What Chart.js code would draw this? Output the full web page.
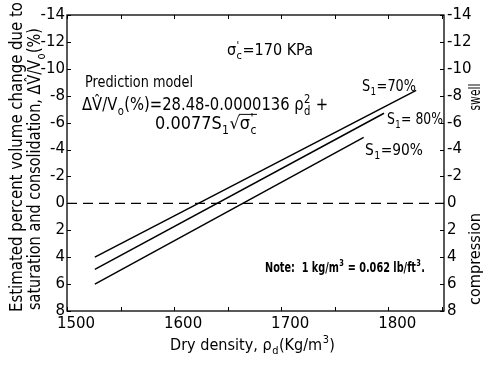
<!DOCTYPE html>
<html>
<head>
<meta charset="utf-8">
<script src="https://cdn.jsdelivr.net/npm/chart.js@4.4.0/dist/chart.umd.min.js"></script>
<style>
  html, body { margin: 0; padding: 0; background: #fff; }
  canvas { display: block; }
</style>
</head>
<body>
<canvas id="chart" width="484" height="369"></canvas>
<script>
// values
const xTicks = [1500, 1600, 1700, 1800];
const yTicks = [-14, -12, -10, -8, -6, -4, -2, 0, 2, 4, 6, 8];
const xMin = 1500, xMax = 1852;
const yMin = -14, yMax = 8;

const s70Density = [1526, 1826];
const s70Change = [4.0, -8.4];
const s80Density = [1526, 1796];
const s80Change = [4.9, -6.7];
const s90Density = [1526, 1777];
const s90Change = [6.0, -4.9];
const zeroDensity = [1500, 1852];
const zeroChange = [0, 0];

const FAMILY = '"DejaVu Sans", sans-serif';

function font(size, weight) {
  return (weight || "normal") + " " + size + "px " + FAMILY;
}

// rich text: {t} normal, {sub}/{sup} small, {root:[...]} square root
function runWidth(ctx, parts, size, weight) {
  let w = 0;
  for (const p of parts) {
    if (p.t != null) {
      ctx.font = font(size, weight);
      w += ctx.measureText(p.t).width;
    } else if (p.root) {
      ctx.font = font(size, weight);
      w += ctx.measureText("√").width + runWidth(ctx, p.root, size, weight);
    } else {
      ctx.font = font(size * 0.68, weight);
      w += Math.max(p.sub ? ctx.measureText(p.sub).width : 0,
                    p.sup ? ctx.measureText(p.sup).width : 0) + 1;
    }
  }
  return w;
}

function drawRun(ctx, x, y, parts, size, weight) {
  for (const p of parts) {
    if (p.t != null) {
      ctx.font = font(size, weight);
      ctx.fillText(p.t, x, y);
      x += ctx.measureText(p.t).width;
    } else if (p.root) {
      ctx.font = font(size, weight);
      ctx.fillText("√", x, y);
      const rw = ctx.measureText("√").width;
      const inner = runWidth(ctx, p.root, size, weight);
      ctx.beginPath();
      ctx.moveTo(x + rw - 1, y - size * 0.86);
      ctx.lineTo(x + rw + inner, y - size * 0.86);
      ctx.lineWidth = 1;
      ctx.stroke();
      x = drawRun(ctx, x + rw, y, p.root, size, weight);
    } else {
      ctx.font = font(size * 0.68, weight);
      let w = 0;
      if (p.sub) { ctx.fillText(p.sub, x + 0.5, y + size * 0.28); w = ctx.measureText(p.sub).width; }
      if (p.sup) { ctx.fillText(p.sup, x + 0.5, y - size * 0.42); w = Math.max(w, ctx.measureText(p.sup).width); }
      x += w + 1;
    }
  }
  return x;
}

// draws text from left x (or centred on x) and squeezes it to the given width
function drawRich(ctx, x, y, parts, size, opts) {
  opts = opts || {};
  const natural = runWidth(ctx, parts, size, opts.weight);
  const sx = opts.width ? opts.width / natural : 1;
  ctx.save();
  ctx.translate(x, y);
  if (opts.rotate) ctx.rotate(opts.rotate);
  ctx.scale(sx, 1);
  const start = opts.center ? -natural / 2 : 0;
  drawRun(ctx, start, 0, parts, size, opts.weight);
  ctx.restore();
}

const sigma = [{ t: "σ" }, { sub: "c", sup: "'" }];

const annotate = {
  id: "annotate",
  afterDraw(chart) {
    const { ctx, chartArea: a, scales: { x, y } } = chart;
    ctx.save();
    ctx.fillStyle = "#000";
    ctx.strokeStyle = "#000";
    ctx.textAlign = "left";
    ctx.textBaseline = "alphabetic";

    // frame
    ctx.lineWidth = 1.3;
    ctx.strokeRect(a.left, a.top, a.right - a.left, a.bottom - a.top);

    // inward ticks
    ctx.lineWidth = 1;
    ctx.beginPath();
    for (let v = xMin; v < xMax; v += 50) {
      const px = Math.round(x.getPixelForValue(v)) + 0.5;
      ctx.moveTo(px, a.bottom); ctx.lineTo(px, a.bottom - 4);
      ctx.moveTo(px, a.top); ctx.lineTo(px, a.top + 4);
    }
    for (const v of yTicks) {
      const py = Math.round(y.getPixelForValue(v)) + 0.5;
      ctx.moveTo(a.left, py); ctx.lineTo(a.left + 4, py);
      ctx.moveTo(a.right, py); ctx.lineTo(a.right - 4, py);
    }
    ctx.stroke();

    // y title, two lines
    drawRich(ctx, 22, 157, [{ t: "Estimated percent volume change due to" }], 18,
      { center: true, width: 310, rotate: -Math.PI / 2 });
    drawRich(ctx, 40, 169, [
      { t: "saturation and consolidation, ΔV̂/V" }, { sub: "o" }, { t: "(%)" }
    ], 18, { center: true, width: 282, rotate: -Math.PI / 2 });

    // right side words
    drawRich(ctx, 480, 97, [{ t: "swell" }], 16, { center: true, width: 27, rotate: -Math.PI / 2 });
    drawRich(ctx, 480, 259, [{ t: "compression" }], 16, { center: true, width: 92, rotate: -Math.PI / 2 });

    // x title
    drawRich(ctx, 170, 350, [
      { t: "Dry density, ρ" }, { sub: "d" }, { t: "(Kg/m" }, { sup: "3" }, { t: ")" }
    ], 16, { width: 165 });

    // model text
    drawRich(ctx, 227, 55, sigma.concat([{ t: "=170 KPa" }]), 15, { width: 86 });
    drawRich(ctx, 85, 87, [{ t: "Prediction model" }], 16, { width: 108 });
    drawRich(ctx, 82, 110, [
      { t: "ΔV̂/V" }, { sub: "o" }, { t: "(%)=28.48-0.0000136 ρ" }, { sub: "d", sup: "2" }, { t: " +" }
    ], 17, { width: 246 });
    drawRich(ctx, 155, 129, [
      { t: "0.0077S" }, { sub: "1" }, { root: sigma }
    ], 17, { width: 102 });

    // curve labels
    drawRich(ctx, 362, 91, [{ t: "S" }, { sub: "1" }, { t: "=70%" }], 15, { width: 54 });
    drawRich(ctx, 387, 124, [{ t: "S" }, { sub: "1" }, { t: "= 80%" }], 15, { width: 56 });
    drawRich(ctx, 365, 155, [{ t: "S" }, { sub: "1" }, { t: "=90%" }], 15, { width: 58 });

    // note
    drawRich(ctx, 265, 272, [
      { t: "Note:  1 kg/m" }, { sup: "3" }, { t: " = 0.062 lb/ft" }, { sup: "3" }, { t: "." }
    ], 14, { width: 160, weight: "bold" });

    ctx.restore();
  }
};

function series(dens, change) {
  return dens.map((d, i) => ({ x: d, y: change[i] }));
}

const lineStyle = { borderColor: "#000", borderWidth: 1.5, pointRadius: 0, fill: false, tension: 0 };
const tickFont = { family: FAMILY, size: 15 };

new Chart(document.getElementById("chart"), {
  type: "line",
  data: {
    datasets: [
      { label: "S1=70%", data: series(s70Density, s70Change), ...lineStyle },
      { label: "S1=80%", data: series(s80Density, s80Change), ...lineStyle },
      { label: "S1=90%", data: series(s90Density, s90Change), ...lineStyle },
      { label: "zero", data: series(zeroDensity, zeroChange), ...lineStyle, borderWidth: 1.1, borderDash: [10, 6] }
    ]
  },
  options: {
    responsive: false,
    animation: false,
    devicePixelRatio: 1,
    layout: { padding: { top: 15, left: 0, right: 0, bottom: 0 } },
    plugins: { legend: { display: false }, tooltip: { enabled: false } },
    scales: {
      x: {
        type: "linear",
        min: xMin, max: xMax,
        afterBuildTicks: s => { s.ticks = xTicks.map(v => ({ value: v })); },
        afterFit: s => { s.height = 58; },
        grid: { display: false, drawTicks: false },
        border: { display: false },
        ticks: { color: "#000", padding: 4, labelOffset: 9, font: tickFont, callback: v => String(v) }
      },
      y: {
        position: "left",
        reverse: true,
        min: yMin, max: yMax,
        afterBuildTicks: s => { s.ticks = yTicks.map(v => ({ value: v })); },
        afterFit: s => { s.width = 67; },
        grid: { display: false, drawTicks: false },
        border: { display: false },
        ticks: { color: "#000", padding: 2, font: tickFont, callback: v => String(v) }
      },
      y2: {
        position: "right",
        reverse: true,
        min: yMin, max: yMax,
        afterBuildTicks: s => { s.ticks = yTicks.map(v => ({ value: v })); },
        afterFit: s => { s.width = 40; },
        grid: { display: false, drawTicks: false },
        border: { display: false },
        ticks: { color: "#000", padding: 3, font: tickFont, callback: v => String(v) }
      }
    }
  },
  plugins: [annotate]
});
</script>
</body>
</html>
